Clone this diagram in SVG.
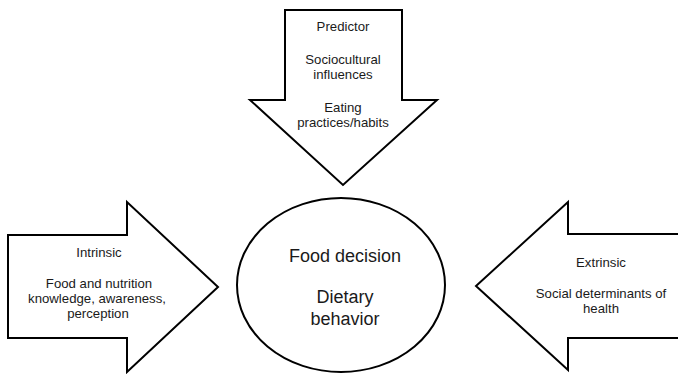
<svg xmlns="http://www.w3.org/2000/svg" width="678" height="374" viewBox="0 0 678 374">
<style>
.shape{fill:#fff;stroke:#000;stroke-width:2;stroke-linejoin:miter}
text{font-family:"Liberation Sans",Arial,sans-serif;font-size:13.2px;fill:#1a1a1a;text-anchor:middle}
.big{font-size:18px}
</style>
<rect width="678" height="374" fill="#fff"/>
<g id="predictor">
<polygon class="shape" points="285,10 402,10 402,100 437,100 343,185 250,100 285,100"/>
<text x="343" y="31">Predictor</text>
<text x="343" y="64">Sociocultural</text>
<text x="343" y="79">influences</text>
<text x="343" y="112">Eating</text>
<text x="343" y="127">practices/habits</text>
</g>
<g id="intrinsic">
<polygon class="shape" points="8,235 127,235 127,202 218,287 127,372 127,338 8,338"/>
<text x="99" y="257">Intrinsic</text>
<text x="99" y="288">Food and nutrition</text>
<text x="97" y="303">knowledge, awareness,</text>
<text x="98" y="318">perception</text>
</g>
<g id="center">
<ellipse class="shape" cx="341" cy="285" rx="104" ry="87"/>
<text class="big" x="345" y="262">Food decision</text>
<text class="big" x="345" y="303">Dietary</text>
<text class="big" x="345" y="325">behavior</text>
</g>
<g id="extrinsic">
<polygon class="shape" points="690,234 568,234 568,202 476,286 568,370 568,338 690,338"/>
<text x="601" y="267">Extrinsic</text>
<text x="601" y="298">Social determinants of</text>
<text x="601" y="313">health</text>
</g>
<g id="connectors"></g>
</svg>
